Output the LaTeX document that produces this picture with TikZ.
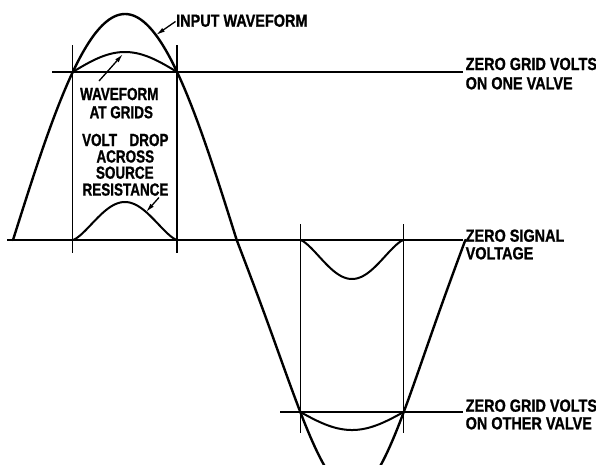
\documentclass[tikz,border=0pt]{standalone}
\usepackage{fontspec}
\newfontfamily\leftlabelfont{Liberation Sans}[FakeStretch=0.77, FakeBold=1]
\newfontfamily\rightlabelfont{Liberation Sans}[FakeStretch=0.825, FakeBold=1]
\usetikzlibrary{arrows.meta}
\tikzset{
  lbl/.style={font=\leftlabelfont\bfseries\fontsize{17.5}{17.5}\selectfont, inner sep=0pt},
  rlbl/.style={font=\rightlabelfont\bfseries\fontsize{17.5}{17.5}\selectfont, inner sep=0pt, anchor=base west},
  wave/.style={line width=2.4pt, line join=round, line cap=round},
  gridwave/.style={line width=2pt, line join=round},
  dropwave/.style={line width=2pt, line join=round},
  refline/.style={line width=1.6pt},
  vline/.style={line width=1.3pt},
  arr/.style={line width=1.3pt, -{Latex[length=9pt,width=4.5pt]}}
}
\begin{document}
\begin{tikzpicture}[x=1pt,y=-1pt]
\useasboundingbox (0,0) rectangle (596,464);
% reference lines
\coordinate (topL) at (52,72);   \coordinate (topR) at (463,72);
\coordinate (zeroL) at (7,240);  \coordinate (zeroR) at (463,240);
\coordinate (botL) at (280,412); \coordinate (botR) at (463,412);
\draw[refline] (topL) -- (topR);
\draw[refline] (zeroL) -- (zeroR);
\draw[refline] (botL) -- (botR);
% vertical lines
\coordinate (v1t) at (72.7,45);   \coordinate (v1b) at (72.7,253);
\coordinate (v2t) at (177.1,45);  \coordinate (v2b) at (177.1,253);
\coordinate (v3t) at (300.3,224); \coordinate (v3b) at (300.3,433);
\coordinate (v4t) at (403.7,224); \coordinate (v4b) at (403.7,433);
\draw[vline] (v1t) -- (v1b);
\draw[vline] (v2t) -- (v2b);
\draw[vline] (v3t) -- (v3b);
\draw[vline] (v4t) -- (v4b);
% input waveform
\draw[wave] plot[domain=13:125, samples=50, variable=\x] (\x, {240-226*sin((\x-13)/112*90)})
  -- plot[domain=125:236.7, samples=50, variable=\x] (\x, {240-226*cos((\x-125)/111.7*90)})
  -- plot[domain=236.7:352.85, samples=50, variable=\x]
       (\x, {240+193.5*sin((\x-236.7)/116.15*90)+58.2*pow(sin((\x-236.7)/116.15*90),3)})
  -- plot[domain=352.85:465.35, samples=50, variable=\x]
       (\x, {240+193.5*cos((\x-352.85)/112.5*90)+58.2*pow(cos((\x-352.85)/112.5*90),3)});
% waveform at grids (top)
\draw[gridwave] plot[domain=72.7:177.1, samples=50, variable=\x] (\x, {72-20*sin((\x-72.7)/104.4*180)});
% waveform at grids (bottom)
\draw[gridwave] plot[domain=300.3:403.7, samples=50, variable=\x] (\x, {412+18*sin((\x-300.3)/103.4*180)});
% volt drop bumps
\draw[dropwave] plot[domain=72.7:177.1, samples=60, variable=\x] (\x, {240-38*pow(abs(sin((\x-72.7)/104.4*180))+0.0001,1.4)});
\draw[dropwave] plot[domain=300.3:403.7, samples=60, variable=\x] (\x, {240+39*pow(abs(sin((\x-300.3)/103.4*180))+0.0001,1.4)});
% labels
\node[rlbl] (inp) at (176,26.7) {INPUT WAVEFORM};
\node[rlbl] (zg1a) at (465.5,70) {ZERO GRID VOLTS};
\node[rlbl] (zg1b) at (465.5,89.3) {ON ONE VALVE};
\node[rlbl] (zsa) at (465.5,241.7) {ZERO SIGNAL};
\node[rlbl] (zsb) at (465.5,259.3) {VOLTAGE};
\node[rlbl] (zg2a) at (465.5,411.7) {ZERO GRID VOLTS};
\node[rlbl] (zg2b) at (465.5,429.3) {ON OTHER VALVE};
\node[lbl, anchor=base] (wga) at (119.3,100) {WAVEFORM};
\node[lbl, anchor=base] (wgb) at (121.3,118.3) {AT GRIDS};
\node[lbl, anchor=base] (vda) at (125.3,146) {VOLT\hspace{0.5em} DROP};
\node[lbl, anchor=base] (vdb) at (125.3,162.5) {ACROSS};
\node[lbl, anchor=base] (vdc) at (124.8,178.7) {SOURCE};
\node[lbl, anchor=base] (vdd) at (125.5,195.6) {RESISTANCE};
% arrows
\coordinate (inpTail) at (175.5,21.5);  \coordinate (inpTip) at (156,35);
\coordinate (wgTail) at (99,81);        \coordinate (wgTip) at (123,54);
\coordinate (vdTail) at (159,197.5);    \coordinate (vdTip) at (146,212);
\draw[arr] (inpTail) -- (inpTip);
\draw[arr] (wgTail) -- (wgTip);
\draw[arr] (vdTail) -- (vdTip);
\end{tikzpicture}
\end{document}
